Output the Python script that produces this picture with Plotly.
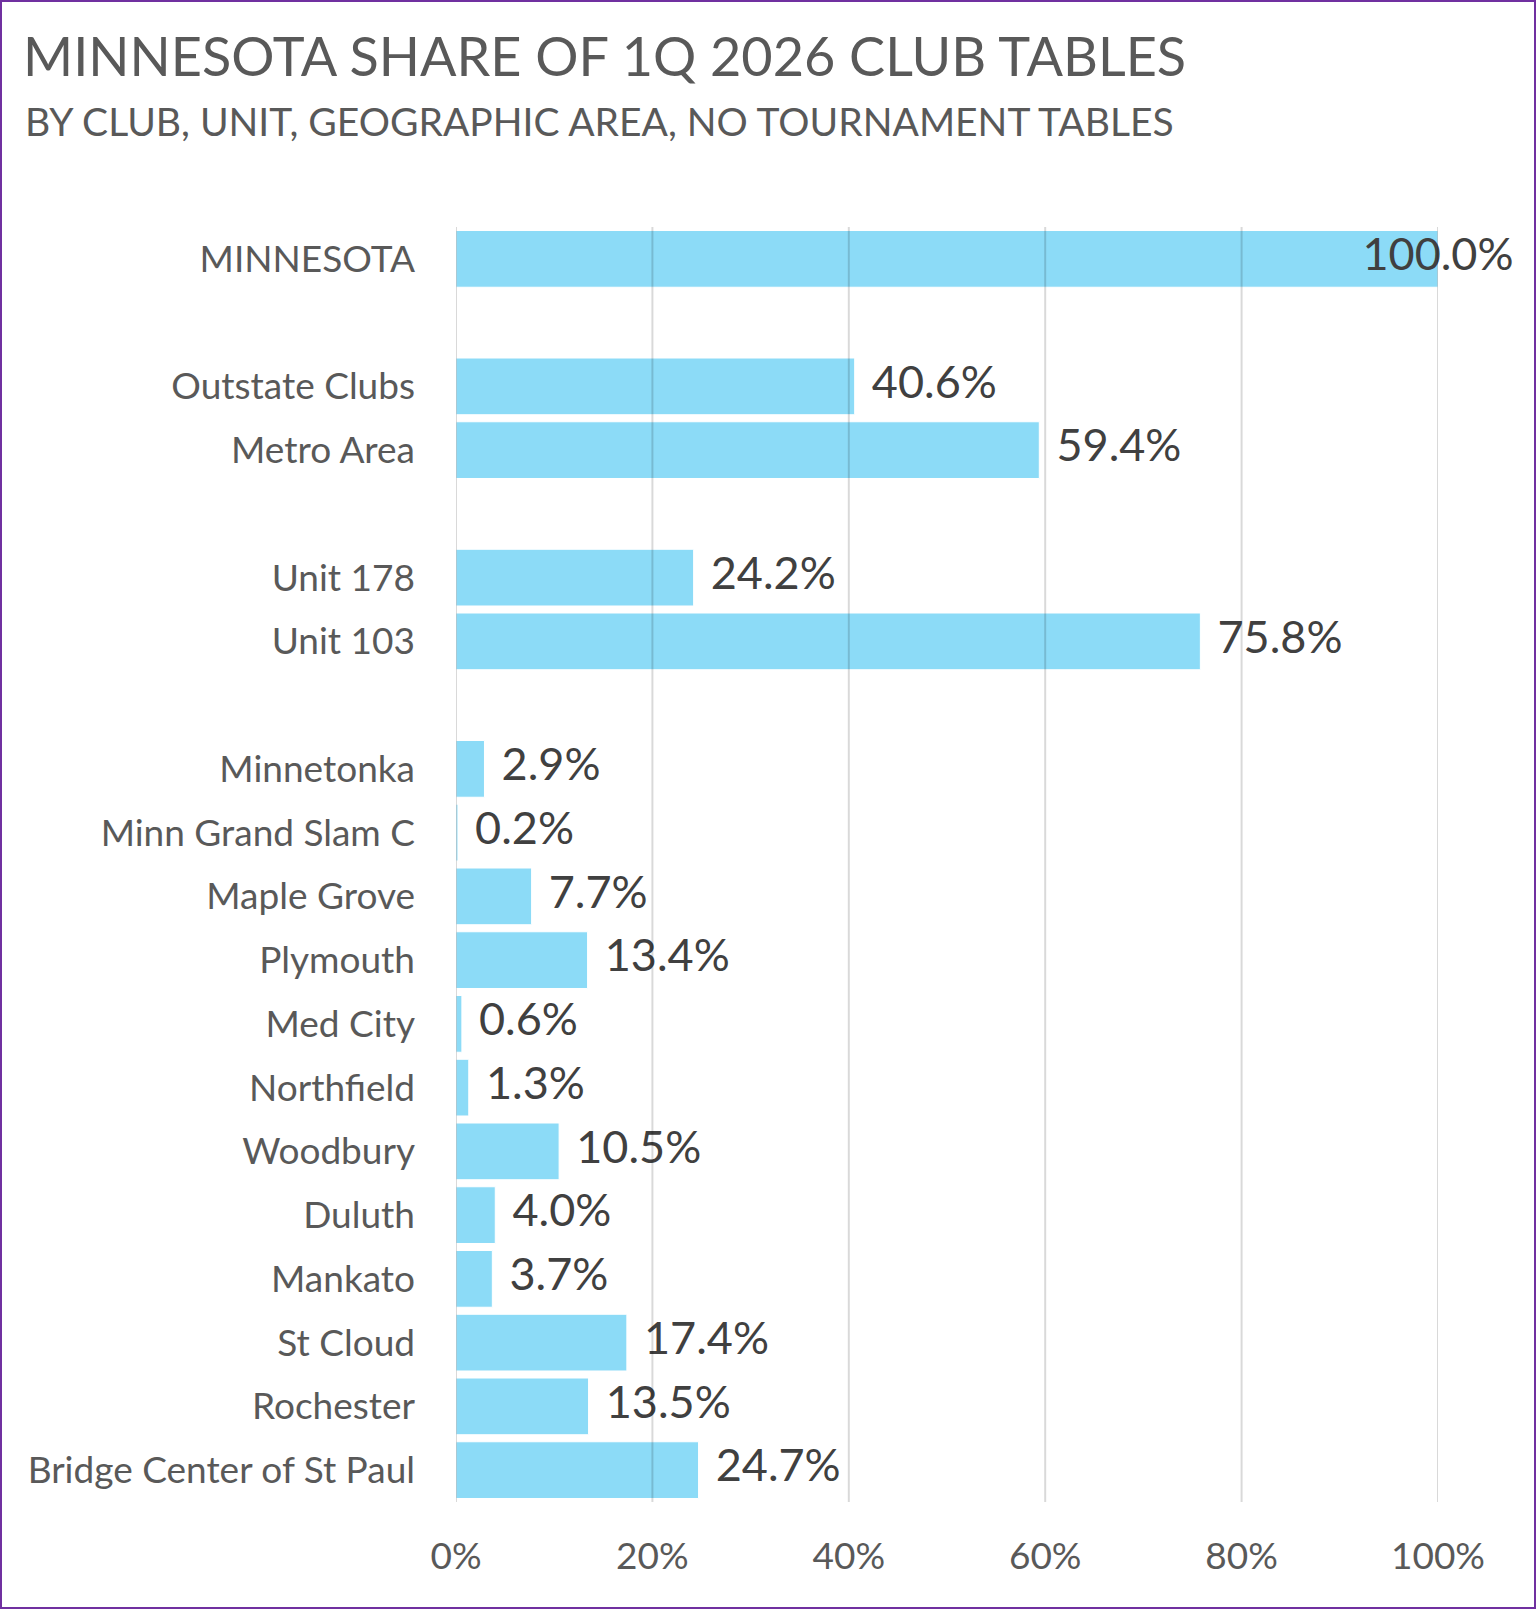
import plotly.graph_objects as go

# rows top to bottom; blank names are spacer rows between groups
categories = ["MINNESOTA", " ",
              "Outstate Clubs", "Metro Area", "  ",
              "Unit 178", "Unit 103", "   ",
              "Minnetonka", "Minn Grand Slam C", "Maple Grove", "Plymouth",
              "Med City", "Northfield", "Woodbury", "Duluth", "Mankato",
              "St Cloud", "Rochester", "Bridge Center of St Paul"]
shares = [1.000, None,
          0.406, 0.594, None,
          0.242, 0.758, None,
          0.029, 0.002, 0.077, 0.134,
          0.006, 0.013, 0.105, 0.040, 0.037,
          0.174, 0.135, 0.247]
tick_vals = [0, 0.2, 0.4, 0.6, 0.8, 1.0]
tick_text = ["0%", "20%", "40%", "60%", "80%", "100%"]

W, H = 1536, 1609
ML, MR, MT, MB = 456, 98, 227, 107
FONT = "Lato"

fig = go.Figure()
fig.add_trace(go.Bar(
    x=shares,
    y=categories,
    orientation="h",
    marker=dict(color="#8CDBF7", line=dict(color="white", width=1)),
    hoverinfo="x+y",
))

# value labels; the 100% one sits centred on the bar end like the original
labels = []
positions = []
for v in shares:
    if v is None:
        labels.append("")
        positions.append("middle right")
    elif v >= 0.999:
        labels.append(format(v, ".1%"))
        positions.append("middle center")
    else:
        labels.append("\u00a0\u2009" + format(v, ".1%"))
        positions.append("middle right")
fig.add_trace(go.Scatter(
    x=shares,
    y=categories,
    mode="text",
    text=labels,
    textposition=positions,
    textfont=dict(family=FONT, size=45, color="#404040"),
    cliponaxis=False,
    hoverinfo="skip",
))

# gridlines drawn over the bars, as in the original
for t in tick_vals:
    fig.add_vline(x=t, line=dict(color="rgba(0,0,0,0.15)", width=2), layer="above")

pw = W - ML - MR
ph = H - MT - MB
fig.add_shape(
    type="rect", xref="paper", yref="paper",
    x0=-(ML - 1) / pw, x1=1 + (MR - 1) / pw,
    y0=-(MB - 1) / ph, y1=1 + (MT - 1) / ph,
    line=dict(color="#7030A0", width=2), fillcolor="rgba(0,0,0,0)", layer="above",
)

# subtitle line under the title
fig.add_annotation(
    text="BY CLUB, UNIT, GEOGRAPHIC AREA, NO TOURNAMENT TABLES",
    xref="paper", yref="paper",
    x=-(ML - 23) / pw, xanchor="left",
    y=1 + (MT - 121) / ph, yanchor="middle",
    showarrow=False,
    font=dict(family=FONT, size=39, color="#595959"),
)

fig.update_layout(
    width=W, height=H,
    margin=dict(l=ML, r=MR, t=MT, b=MB),
    paper_bgcolor="white",
    plot_bgcolor="white",
    showlegend=False,
    bargap=0.11,
    font=dict(family=FONT, color="#595959"),
    title=dict(
        text="MINNESOTA SHARE OF 1Q 2026 CLUB TABLES",
        font=dict(family=FONT, size=54, color="#595959"),
        xref="container", x=23 / W, xanchor="left",
        yref="container", y=1 - 57 / H, yanchor="middle",
    ),
    xaxis=dict(
        range=[0, 1.0],
        tickvals=tick_vals,
        ticktext=tick_text,
        tickfont=dict(family=FONT, size=37, color="#595959"),
        showgrid=False,
        zeroline=False,
        showline=False,
        ticks="",
        ticklabelstandoff=29,
        fixedrange=True,
    ),
    yaxis=dict(
        type="category",
        categoryorder="array",
        categoryarray=categories,
        range=[len(categories) - 0.5, -0.5],
        tickfont=dict(family=FONT, size=37, color="#595959"),
        showgrid=False,
        zeroline=False,
        ticks="",
        ticklabelstandoff=40,
        fixedrange=True,
    ),
)

fig.write_html(
    "out.html",
    config={"displayModeBar": False},
    post_script="document.body.style.margin='0';document.body.style.overflow='hidden';",
)
